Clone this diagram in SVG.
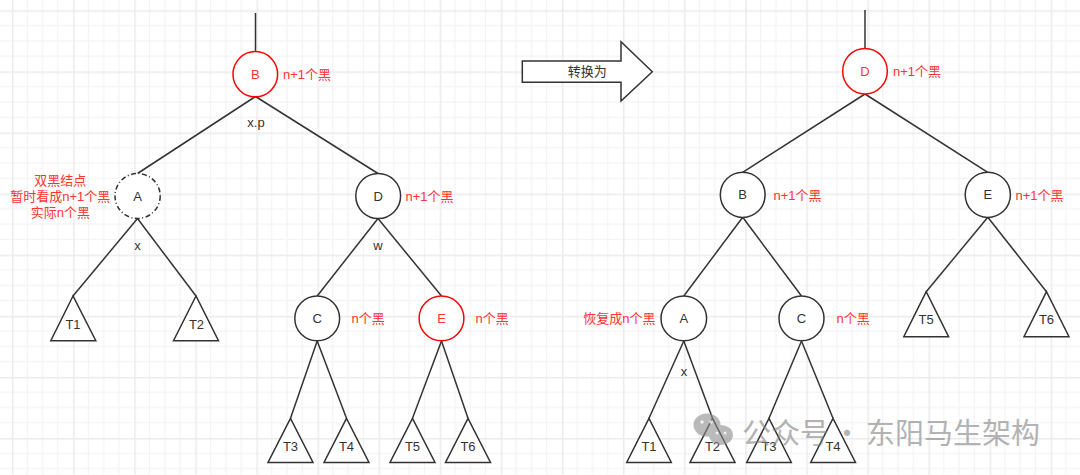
<svg xmlns="http://www.w3.org/2000/svg" width="1080" height="475" viewBox="0 0 1080 475">
  <defs>
    <pattern id="grid" patternUnits="userSpaceOnUse" x="12" y="10.3" width="61.1" height="61.1">
      <rect x="14.7" y="0" width="1.2" height="61.1" fill="#f3f3f3"/>
      <rect x="30" y="0" width="1.2" height="61.1" fill="#f3f3f3"/>
      <rect x="45.2" y="0" width="1.2" height="61.1" fill="#f3f3f3"/>
      <rect x="0" y="14.7" width="61.1" height="1.2" fill="#f3f3f3"/>
      <rect x="0" y="30" width="61.1" height="1.2" fill="#f3f3f3"/>
      <rect x="0" y="45.2" width="61.1" height="1.2" fill="#f3f3f3"/>
      <rect x="0" y="0" width="1.5" height="61.1" fill="#ebebeb"/>
      <rect x="0" y="0" width="61.1" height="1.5" fill="#ebebeb"/>
    </pattern>
    <style>
      .edge { stroke: #333333; stroke-width: 1.5; fill: none; }
      .node { fill: #ffffff; stroke: #333333; stroke-width: 1.5; }
      .rnode { fill: #ffffff; stroke: #ff0000; stroke-width: 1.5; }
      .dnode { fill: #ffffff; stroke: #333333; stroke-width: 1.5; stroke-dasharray: 5 2.5 1 2.5; }
      .tri { fill: #ffffff; stroke: #333333; stroke-width: 1.5; stroke-linejoin: miter; }
      .t { font-family: "Liberation Sans", "Noto Sans CJK SC", sans-serif; font-size: 13px; fill: #333333; text-anchor: middle; dominant-baseline: central; }
      .r { font-family: "Liberation Sans", "Noto Sans CJK SC", sans-serif; font-size: 13px; fill: #ff3333; dominant-baseline: central; }
      .rc { text-anchor: middle; }
      .re { text-anchor: end; }
      .wm { font-family: "Noto Sans CJK SC", sans-serif; font-size: 29px; fill: #808080; opacity: 0.65; dominant-baseline: central; }
    </style>
  </defs>

  <rect x="0" y="0" width="1080" height="475" fill="#ffffff"/>
  <rect x="0" y="0" width="1080" height="475" fill="url(#grid)"/>

  <g id="connectors">
    <!-- left tree -->
    <line class="edge" x1="255.5" y1="13" x2="255.5" y2="51.5"/>
    <line class="edge" x1="255.5" y1="96.5" x2="137.5" y2="173.5"/>
    <line class="edge" x1="255.5" y1="96.5" x2="378" y2="173.5"/>
    <line class="edge" x1="137.5" y1="218.5" x2="73" y2="296"/>
    <line class="edge" x1="137.5" y1="218.5" x2="196" y2="296"/>
    <line class="edge" x1="378" y1="218.5" x2="317.2" y2="296"/>
    <line class="edge" x1="378" y1="218.5" x2="441.5" y2="296"/>
    <line class="edge" x1="317.2" y1="341" x2="290.5" y2="418.3"/>
    <line class="edge" x1="317.2" y1="341" x2="346.5" y2="418.3"/>
    <line class="edge" x1="441.5" y1="341" x2="412.5" y2="418.3"/>
    <line class="edge" x1="441.5" y1="341" x2="468" y2="418.3"/>
    <!-- right tree -->
    <line class="edge" x1="865" y1="10" x2="865" y2="49"/>
    <line class="edge" x1="865" y1="94" x2="742.7" y2="172.3"/>
    <line class="edge" x1="865" y1="94" x2="987.8" y2="172.3"/>
    <line class="edge" x1="742.7" y1="217.3" x2="683.8" y2="296"/>
    <line class="edge" x1="742.7" y1="217.3" x2="801.5" y2="296"/>
    <line class="edge" x1="987.8" y1="217.3" x2="926.2" y2="291.7"/>
    <line class="edge" x1="987.8" y1="217.3" x2="1046.5" y2="291.7"/>
    <line class="edge" x1="683.8" y1="341" x2="649" y2="418.3"/>
    <line class="edge" x1="683.8" y1="341" x2="712.5" y2="418.3"/>
    <line class="edge" x1="801.5" y1="341" x2="769" y2="418.3"/>
    <line class="edge" x1="801.5" y1="341" x2="833" y2="418.3"/>
  </g>

  <g id="edge-labels">
    <text class="t" x="256" y="122">x.p</text>
    <text class="t" x="137.5" y="245">x</text>
    <text class="t" x="378" y="245">w</text>
    <text class="t" x="684" y="371">x</text>
  </g>

  <!-- left tree nodes -->
  <g id="L-B">
    <ellipse class="rnode" cx="255.3" cy="74.2" rx="22.3" ry="22.6"/>
    <text class="r rc" x="255.3" y="74.2">B</text>
    <text class="r" x="283" y="74.2">n+1个黑</text>
  </g>
  <g id="L-A">
    <ellipse class="dnode" cx="137.6" cy="196" rx="22.6" ry="22.5"/>
    <text class="t" x="137.6" y="196">A</text>
    <text class="r rc" x="60.3" y="180">双黑结点</text>
    <text class="r rc" x="60.3" y="196">暂时看成n+1个黑</text>
    <text class="r rc" x="60.3" y="212">实际n个黑</text>
  </g>
  <g id="L-D">
    <ellipse class="node" cx="378.2" cy="196" rx="22.4" ry="22.5"/>
    <text class="t" x="378.2" y="196">D</text>
    <text class="r" x="405.5" y="196">n+1个黑</text>
  </g>
  <g id="L-C">
    <ellipse class="node" cx="317.2" cy="318.4" rx="22.4" ry="22.4"/>
    <text class="t" x="317.2" y="318.4">C</text>
    <text class="r" x="351.5" y="318.4">n个黑</text>
  </g>
  <g id="L-E">
    <ellipse class="rnode" cx="441.5" cy="318.4" rx="22.4" ry="22.4"/>
    <text class="r rc" x="441.5" y="318.4">E</text>
    <text class="r" x="475.5" y="318.4">n个黑</text>
  </g>
  <g id="L-T1">
    <polygon class="tri" points="73,296 50.8,340.7 95.8,340.7"/>
    <text class="t" x="73" y="324">T1</text>
  </g>
  <g id="L-T2">
    <polygon class="tri" points="196,296 173.5,340.7 218.5,340.7"/>
    <text class="t" x="196.5" y="324">T2</text>
  </g>
  <g id="L-T3">
    <polygon class="tri" points="290.5,418.3 268,462.5 313,462.5"/>
    <text class="t" x="290.5" y="446">T3</text>
  </g>
  <g id="L-T4">
    <polygon class="tri" points="346.5,418.3 324,462.5 369,462.5"/>
    <text class="t" x="346.5" y="446">T4</text>
  </g>
  <g id="L-T5">
    <polygon class="tri" points="412.5,418.3 390,462.5 435,462.5"/>
    <text class="t" x="412.5" y="446">T5</text>
  </g>
  <g id="L-T6">
    <polygon class="tri" points="468,418.3 445.5,462.5 490.5,462.5"/>
    <text class="t" x="468" y="446">T6</text>
  </g>

  <!-- arrow -->
  <g id="arrow">
    <polygon class="tri" points="522.3,61 621,61 621,41.7 652.3,71.7 621,101 621,82.3 522.3,82.3"/>
    <text class="t" x="587.3" y="71.7">转换为</text>
  </g>

  <!-- right tree nodes -->
  <g id="R-D">
    <ellipse class="rnode" cx="865" cy="71.2" rx="22.3" ry="22.8"/>
    <text class="r rc" x="865" y="71.2">D</text>
    <text class="r" x="893" y="71.7">n+1个黑</text>
  </g>
  <g id="R-B">
    <ellipse class="node" cx="742.7" cy="194.8" rx="22.4" ry="22.6"/>
    <text class="t" x="742.7" y="194.8">B</text>
    <text class="r" x="773.5" y="195">n+1个黑</text>
  </g>
  <g id="R-E">
    <ellipse class="node" cx="987.8" cy="194.8" rx="22.6" ry="22.6"/>
    <text class="t" x="987.8" y="194.8">E</text>
    <text class="r" x="1015.5" y="195">n+1个黑</text>
  </g>
  <g id="R-A">
    <ellipse class="node" cx="683.8" cy="318.4" rx="22.8" ry="22.4"/>
    <text class="t" x="683.8" y="318.4">A</text>
    <text class="r re" x="655.5" y="318.4">恢复成n个黑</text>
  </g>
  <g id="R-C">
    <ellipse class="node" cx="801.5" cy="318.4" rx="22.5" ry="22.4"/>
    <text class="t" x="801.5" y="318.4">C</text>
    <text class="r" x="836.5" y="318.4">n个黑</text>
  </g>
  <g id="R-T5">
    <polygon class="tri" points="926.2,291.7 903.8,336.7 948.6,336.7"/>
    <text class="t" x="926.2" y="319.5">T5</text>
  </g>
  <g id="R-T6">
    <polygon class="tri" points="1046.5,291.7 1024,336.7 1069,336.7"/>
    <text class="t" x="1046.5" y="319.5">T6</text>
  </g>
  <g id="R-T1">
    <polygon class="tri" points="649,418.3 626.7,462.5 671.3,462.5"/>
    <text class="t" x="649" y="446">T1</text>
  </g>
  <g id="R-T2">
    <polygon class="tri" points="712.5,418.3 690,462.5 735,462.5"/>
    <text class="t" x="712.5" y="446">T2</text>
  </g>
  <g id="R-T3">
    <polygon class="tri" points="769,418.3 746.7,462.5 791.3,462.5"/>
    <text class="t" x="769" y="446">T3</text>
  </g>
  <g id="R-T4">
    <polygon class="tri" points="833,418.3 810.7,462.5 855.5,462.5"/>
    <text class="t" x="833" y="446">T4</text>
  </g>

  <!-- watermark -->
  <g id="watermark" opacity="0.9">
    <g fill="#8c8c8c" opacity="0.65">
      <ellipse cx="707" cy="425" rx="13.5" ry="11.5"/>
      <ellipse cx="721" cy="435" rx="12" ry="10"/>
    </g>
    <g fill="#ffffff" opacity="0.8">
      <circle cx="702" cy="422" r="1.8"/>
      <circle cx="711" cy="422" r="1.8"/>
      <circle cx="717" cy="433" r="1.5"/>
      <circle cx="725" cy="433" r="1.5"/>
    </g>
    <text class="wm" x="742" y="431">公众号</text>
    <text class="wm" x="847" y="431" text-anchor="middle">·</text>
    <text class="wm" x="866" y="431">东阳马生架构</text>
  </g>
</svg>
